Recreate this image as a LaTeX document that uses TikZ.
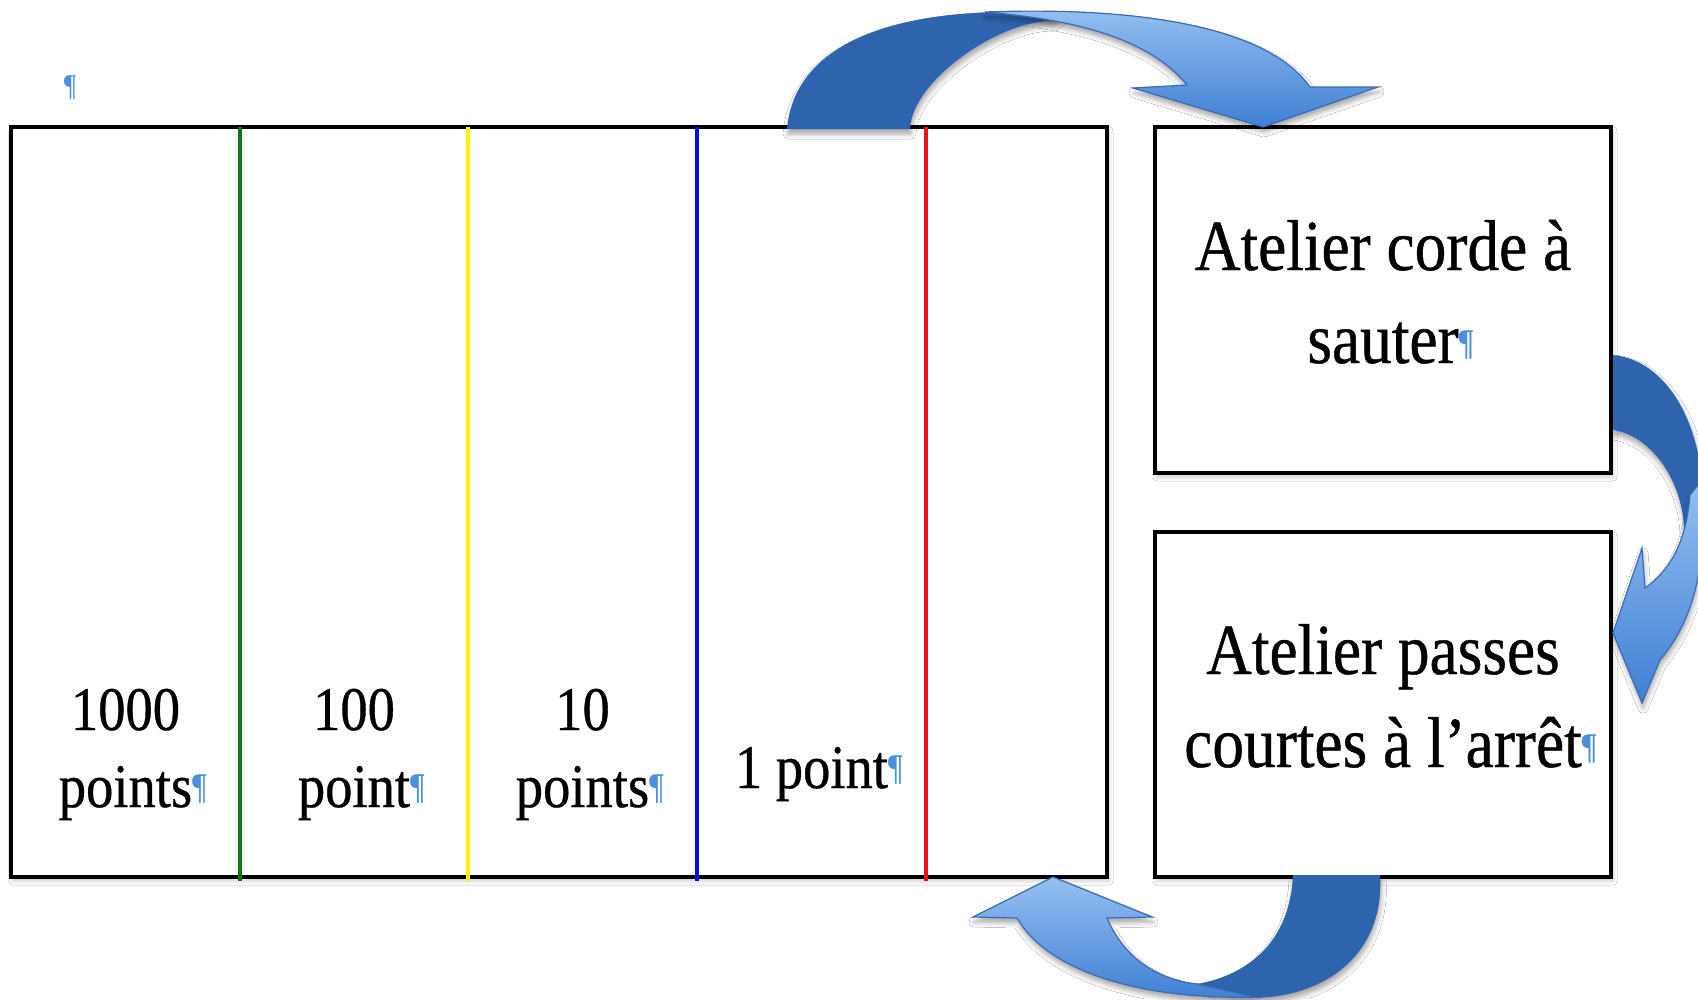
\documentclass[tikz,border=0pt]{standalone}
\usepackage{fontspec}
\setmainfont{Liberation Serif}[FakeStretch=0.88,FakeBold=0.6]
\usetikzlibrary{shadows.blur}
\definecolor{adark}{HTML}{2E64AE}
\definecolor{alight}{HTML}{96C0F1}
\definecolor{amid}{HTML}{3F7FD4}
\definecolor{aedge}{HTML}{3A6CB4}
\definecolor{pilblue}{HTML}{4A8FE0}
\definecolor{lgreen}{HTML}{0B7A12}
\definecolor{lyellow}{HTML}{FFF200}
\definecolor{lblue}{HTML}{0A0AE6}
\definecolor{lred}{HTML}{E2161B}
\newcommand\pil{\rlap{\raisebox{9pt}{\color{pilblue}\fontsize{36}{36}\selectfont ¶}}}
\begin{document}
\begin{tikzpicture}[x=1pt,y=-1pt,
  box/.style={draw=black, line width=3.5pt, fill=white, inner sep=0pt, outer sep=0pt,
    blur shadow={shadow xshift=2pt, shadow yshift=-4pt, shadow blur radius=4pt, shadow opacity=20}},
  divider/.style={line width=4pt},
  numtext/.style={font=\fontsize{62}{77}\selectfont, align=center, anchor=base, inner sep=0pt},
  atext/.style={font=\fontsize{72}{93}\selectfont, align=center, anchor=base, inner sep=0pt},
  backpart/.style={fill=adark, blur shadow={shadow xshift=1pt, shadow yshift=-5pt, shadow blur radius=5pt, shadow opacity=35}},
  frontpart/.style={draw=aedge, line width=1.2pt, top color=alight, bottom color=amid,
    blur shadow={shadow xshift=1pt, shadow yshift=-5pt, shadow blur radius=5pt, shadow opacity=35}},
]
\useasboundingbox (0,0) rectangle (1698,999);
\clip (0,0) rectangle (1698,999);
\fill[white] (0,0) rectangle (1698,999);

% pilcrow top left
\node[text=pilblue, font=\fontsize{30}{30}\selectfont, inner sep=0pt] (pm) at (70,87) {¶};

% boxes
\node[box, minimum width=1096pt, minimum height=750pt] (main) at (559,502) {};
\node[box, minimum width=456pt, minimum height=346pt] (b1) at (1383,300) {};
\node[box, minimum width=456pt, minimum height=345pt] (b2) at (1383,704.5) {};

% dividers
\coordinate (g1) at (240,127); \coordinate (g2) at (240,881);
\coordinate (y1) at (468,127); \coordinate (y2) at (468,881);
\coordinate (u1) at (697,127); \coordinate (u2) at (697,881);
\coordinate (r1) at (926,127); \coordinate (r2) at (926,881);
\draw[divider, lgreen] (g1) -- (g2);
\draw[divider, lyellow] (y1) -- (y2);
\draw[divider, lblue] (u1) -- (u2);
\draw[divider, lred] (r1) -- (r2);

% texts (anchor = baseline of last line)
\node[numtext] (c1) at (125.5,807) {1000\\points\pil};
\node[numtext] (c2) at (354,807) {100\\point\pil};
\node[numtext] (c3) at (582.5,807) {10\\points\pil};
\node[numtext] (c4) at (811.5,788) {1 point\pil};
\node[atext] (t1) at (1383,363) {Atelier corde à\\sauter\pil};
\node[atext] (t2) at (1383,767) {Atelier passes\\courtes à l’arrêt\pil};

% top arrow
\path[backpart] (787,129) .. controls (795,40) and (900,12) .. (1010,12) -- (1065,13) -- (1053,21)
  .. controls (1000,20) and (912,80) .. (910,129) -- cycle;
\path[frontpart] (985,12) .. controls (1150,6) and (1270,30) .. (1310,87) -- (1378,87) -- (1263,127)
  -- (1133,88) -- (1187,85) .. controls (1150,40) and (1080,20) .. (985,12) -- cycle;

% right arrow
\path[backpart] (1613,355) .. controls (1665,360) and (1702,420) .. (1703,500) -- (1703,540) -- (1684,530)
  .. controls (1683,480) and (1650,435) .. (1613,430) -- cycle;
\path[frontpart] (1702,480) .. controls (1708,570) and (1692,622) .. (1660,660) -- (1642,703) -- (1613,633)
  -- (1642,548) -- (1645,588) .. controls (1668,572) and (1686,545) .. (1690,495) -- cycle;

% bottom arrow
\path[backpart] (1293,875) -- (1380,875) .. controls (1385,950) and (1330,998) .. (1250,998) -- (1197,984)
  .. controls (1250,975) and (1290,940) .. (1293,875) -- cycle;
\path[frontpart] (1017,918) -- (973,917) -- (1053,877) -- (1152,917) -- (1107,918)
  .. controls (1125,960) and (1160,980) .. (1197,984) -- (1255,997)
  .. controls (1150,1000) and (1050,975) .. (1017,918) -- cycle;
\end{tikzpicture}
\end{document}
